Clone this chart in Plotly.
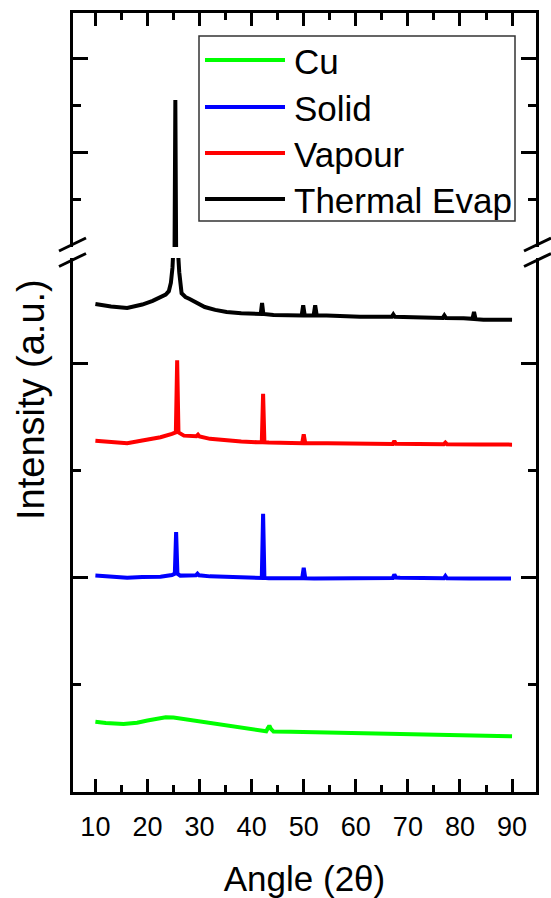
import plotly.graph_objects as go

# ---------------- data: XRD patterns (2-theta in degrees, intensity in a.u.) ----------------
cu_angle = [10, 12, 15.4, 18, 20, 22, 23.5, 25, 26.5, 28, 31, 34.7, 38, 41, 42.8, 43.1, 43.4,
            43.7, 44.2, 47.5, 55, 67, 80, 90]
cu_counts = [657, 645, 636, 648, 668, 688, 698, 697, 686, 670, 650, 620, 593, 573, 567, 595, 620,
             590, 565, 564, 558, 542, 530, 521]

solid_angle = [10, 13, 16.1, 19, 22.5, 24.7, 25.25, 25.5, 25.75, 26.3, 28, 29.3, 29.6,
               29.9, 32, 35.3, 38, 41.1, 41.95, 42.2, 42.45, 43.3, 46, 49.7, 50.0, 50.3,
               52, 56, 61, 65, 67.1, 67.4, 67.7, 68.5, 72, 76.9, 77.2, 77.5, 82, 86, 89.8]
solid_counts = [2022, 2010, 2003, 2008, 2012, 2028, 2040, 2428, 2040, 2022, 2020, 2025, 2040,
                2025, 2015, 2007, 2002, 1997, 2000, 2600, 2000, 1997, 1997, 1997, 2095, 1997,
                1995, 1995, 1997, 1997, 2000, 2033, 2005, 2003, 1997, 1997, 2018, 1997, 1995,
                1995, 1995]

vapour_angle = [10, 13, 16.1, 19, 22.5, 24.7, 25.45, 25.7, 25.95, 27, 29.4, 29.7, 30.0, 32,
                35.3, 38, 41.1, 41.95, 42.2, 42.45, 43.3, 46, 49.7, 50.0, 50.3, 54.5, 60,
                67.1, 67.4, 67.7, 72, 76.9, 77.2, 77.5, 84, 90]
vapour_counts = [3283, 3268, 3259, 3285, 3315, 3346, 3360, 4033, 3360, 3330, 3325, 3339, 3322,
                 3300, 3283, 3275, 3268, 3268, 3722, 3268, 3265, 3262, 3259, 3341, 3259, 3259,
                 3255, 3253, 3280, 3253, 3252, 3250, 3265, 3250, 3248, 3246]

thermal_angle = [10, 13, 16.1, 19, 21, 22.5, 23.5, 24.1, 24.5, 24.8, 25.0, 25.2, 25.35, 25.5,
                 25.8, 26.1, 26.55, 27.3, 28.1, 29.5, 31.0, 33, 35.2, 38, 41.0, 41.75, 42.0,
                 42.25, 44.2, 49.6, 49.9, 50.2, 51.9, 52.2, 52.5, 54.4, 60.8, 66.9, 67.2, 67.5,
                 71, 76.7, 77.0, 77.3, 80.7, 82.4, 82.7, 83.0, 84.5, 90]
thermal_counts = [4561, 4537, 4523, 4555, 4590, 4620, 4648, 4680, 4760, 4900, 5100, 9800, 25530,
                  9800, 5100, 4857, 4660, 4625, 4607, 4568, 4532, 4505, 4485, 4474, 4467, 4467,
                  4570, 4467, 4458, 4452, 4547, 4452, 4452, 4547, 4452, 4452, 4442, 4440, 4462,
                  4440, 4437, 4430, 4453, 4430, 4427, 4422, 4486, 4418, 4414, 4414]

series_names = ["Cu", "Solid", "Vapour", "Thermal Evap"]
series_colors = ["#00FF00", "#0000FF", "#FF0000", "#000000"]
series_x = [cu_angle, solid_angle, vapour_angle, thermal_angle]
series_y = [cu_counts, solid_counts, vapour_counts, thermal_counts]

# ---------------- page geometry ----------------
W, H = 551, 898
M_L, M_R, M_T, M_B = 73, 15, 13, 106
PW = W - M_L - M_R
PH = H - M_T - M_B


def px_x(px):
    return (px - M_L) / PW


def px_y(py):
    return (H - M_B - py) / PH


LOW_DOMAIN = [0, px_y(258)]
UP_DOMAIN = [px_y(247), 1]
X_RANGE = [5.7, 94.6]
LOW_RANGE = [0, 4990]
UP_RANGE = [9894, 34787]

FONT = "Arial, 'Liberation Sans', sans-serif"
LINE_W = 4

fig = go.Figure()

# lower segment of the broken intensity axis: all four patterns
for name, xs, ys, color in zip(series_names, series_x, series_y, series_colors):
    fig.add_trace(go.Scatter(x=xs, y=ys, mode="lines", name=name,
                             line=dict(color=color, width=LINE_W),
                             xaxis="x", yaxis="y", showlegend=False))

# upper segment: the strong reflection that runs past the break
fig.add_trace(go.Scatter(x=thermal_angle, y=thermal_counts, mode="lines", name="Thermal Evap",
                         line=dict(color="#000000", width=LINE_W),
                         xaxis="x2", yaxis="y2", showlegend=False))

axis_common = dict(showgrid=False, zeroline=False, showline=True, linecolor="black",
                   linewidth=3, ticks="inside", tickcolor="black", tickwidth=2.5,
                   automargin=False)

fig.update_layout(
    width=W, height=H,
    margin=dict(l=M_L, r=M_R, t=M_T, b=M_B),
    paper_bgcolor="white", plot_bgcolor="white",
    font=dict(family=FONT, color="black"),
    showlegend=False,
    xaxis=dict(**axis_common, domain=[0, 1], anchor="y", range=X_RANGE,
               tickmode="linear", tick0=10, dtick=10, ticklen=13,
               minor=dict(tick0=5, dtick=5, ticks="inside", ticklen=7,
                          tickwidth=2.5, tickcolor="black"),
               tickfont=dict(size=27, family=FONT),
               ticklabelstandoff=9,
               title=dict(text="Angle (2θ)", font=dict(size=35, family=FONT), standoff=26)),
    xaxis2=dict(**axis_common, domain=[0, 1], anchor="y2", matches="x", side="top",
                range=X_RANGE, tickmode="linear", tick0=10, dtick=10, ticklen=13,
                minor=dict(tick0=5, dtick=5, ticks="inside", ticklen=7,
                           tickwidth=2.5, tickcolor="black"),
                showticklabels=False),
    yaxis=dict(**axis_common, domain=LOW_DOMAIN, anchor="x", range=LOW_RANGE,
               mirror="ticks", tickmode="array", tickvals=[2000, 4000], ticklen=15,
               minor=dict(tickmode="array", tickvals=[1000, 3000], ticks="inside",
                          ticklen=8, tickwidth=2.5, tickcolor="black"),
               showticklabels=False),
    yaxis2=dict(**axis_common, domain=UP_DOMAIN, anchor="x2", range=UP_RANGE,
                mirror="ticks", tickmode="array", tickvals=[20000, 30000], ticklen=15,
                minor=dict(tickmode="array", tickvals=[15000, 25000], ticks="inside",
                           ticklen=8, tickwidth=2.5, tickcolor="black"),
                showticklabels=False),
)

shapes = []
# axis-break marks on both sides
for axis_px in (72, 537):
    for cy in (244.5, 260):
        shapes.append(dict(type="line", xref="paper", yref="paper",
                           x0=px_x(axis_px - 13), y0=px_y(cy + 6.5),
                           x1=px_x(axis_px + 14), y1=px_y(cy - 6.5),
                           line=dict(color="black", width=3), layer="above"))

# legend box
LEG_L, LEG_R, LEG_T, LEG_B = 199, 515, 36, 221
shapes.append(dict(type="rect", xref="paper", yref="paper",
                   x0=px_x(LEG_L), x1=px_x(LEG_R), y0=px_y(LEG_B), y1=px_y(LEG_T),
                   line=dict(color="#333333", width=1.5), fillcolor="white", layer="above"))
row_y = [60, 107, 153, 199]
annotations = []
for name, color, ry in zip(series_names, series_colors, row_y):
    shapes.append(dict(type="line", xref="paper", yref="paper",
                       x0=px_x(205), x1=px_x(285), y0=px_y(ry), y1=px_y(ry),
                       line=dict(color=color, width=4), layer="above"))
    annotations.append(dict(text=name, xref="paper", yref="paper",
                            x=px_x(292), y=px_y(ry + 1), xanchor="left", yanchor="middle",
                            showarrow=False, font=dict(size=35, family=FONT, color="black")))

# y-axis title spanning both segments
annotations.append(dict(text="Intensity (a.u.)", xref="paper", yref="paper",
                        x=px_x(31), y=px_y(400), xanchor="center", yanchor="middle",
                        textangle=-90, showarrow=False,
                        font=dict(size=38, family=FONT, color="black")))

fig.update_layout(shapes=shapes, annotations=annotations)

fig.write_html("out.html")
